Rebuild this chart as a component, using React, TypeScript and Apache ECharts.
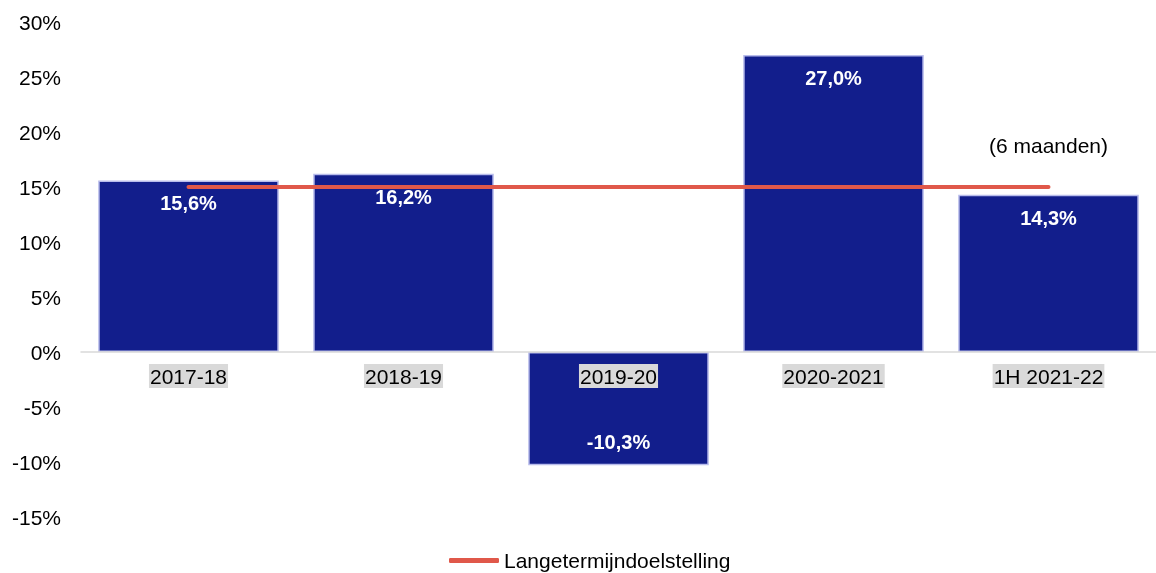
import React, { useEffect, useRef } from "react";
import * as echarts from "echarts";

const categories = ["2017-18", "2018-19", "2019-20", "2020-2021", "1H 2021-22"];
const returns = [15.6, 16.2, -10.3, 27.0, 14.3];
const target = [15, 15, 15, 15, 15];
const yTicks = { min: -15, max: 30, interval: 5 };
const noteCategory = "1H 2021-22";
const noteValue = 18.8;
const noteText = "(6 maanden)";
const legendName = "Langetermijndoelstelling";

const FONT = "'Liberation Sans', Arial, sans-serif";
const RED = "#E0584A";

export default function App() {
  const ref = useRef<HTMLDivElement>(null);
  useEffect(() => {
    if (!ref.current) return;
    const chart = echarts.init(ref.current, undefined, { renderer: "svg" });
    chart.setOption({
      animation: false,
      textStyle: { fontFamily: FONT },
      grid: { left: 81, right: -3, top: 22, bottom: 56, containLabel: false },
      legend: {
        data: [{ name: legendName, icon: "roundRect", itemStyle: { color: RED } }],
        left: 444,
        top: 545,
        itemWidth: 50,
        itemHeight: 5,
        itemGap: 4,
        textStyle: { fontFamily: FONT, fontSize: 21, color: "#000" },
      },
      xAxis: {
        type: "category",
        data: categories,
        z: 10,
        position: "bottom",
        offset: -165,
        axisLine: { show: true, onZero: false, lineStyle: { color: "#D9D9D9", width: 1.5 } },
        axisTick: { show: false },
        axisLabel: {
          margin: 12,
          fontFamily: FONT,
          fontSize: 21,
          color: "#000",
          backgroundColor: "#D9D9D9",
          padding: [2, 1, 1, 1],
        },
      },
      yAxis: {
        type: "value",
        min: yTicks.min,
        max: yTicks.max,
        interval: yTicks.interval,
        splitLine: { show: false },
        axisLine: { show: false },
        axisTick: { show: false },
        axisLabel: {
          margin: 20,
          fontFamily: FONT,
          fontSize: 21,
          color: "#000",
          formatter: (v: number) => `${v}%`,
        },
      },
      series: [
        {
          type: "bar",
          name: "Rendement",
          barCategoryGap: "16%",
          itemStyle: { color: "#121E8C", borderColor: "#B8BCEB", borderWidth: 1.5 },
          data: returns.map((v) => ({
            value: v,
            label: { position: v >= 0 ? "insideTop" : "insideBottom" },
          })),
          label: {
            show: true,
            distance: 13,
            fontFamily: FONT,
            fontSize: 20,
            fontWeight: "bold",
            color: "#fff",
            formatter: (p: any) => `${p.value.toFixed(1).replace(".", ",")}%`,
          },
          markPoint: {
            symbol: "circle",
            symbolSize: 0,
            data: [
              {
                coord: [noteCategory, noteValue],
                label: {
                  show: true,
                  position: "inside",
                  formatter: noteText,
                  fontFamily: FONT,
                  fontSize: 21,
                  color: "#000",
                },
              },
            ],
          },
        },
        {
          type: "line",
          name: legendName,
          data: target,
          symbol: "none",
          z: 5,
          lineStyle: { color: RED, width: 4, cap: "round" },
          itemStyle: { color: RED },
        },
      ],
    });
    return () => chart.dispose();
  }, []);
  return (
    <div
      ref={ref}
      style={{ position: "fixed", left: 0, top: 0, width: 1156, height: 573 }}
    />
  );
}
